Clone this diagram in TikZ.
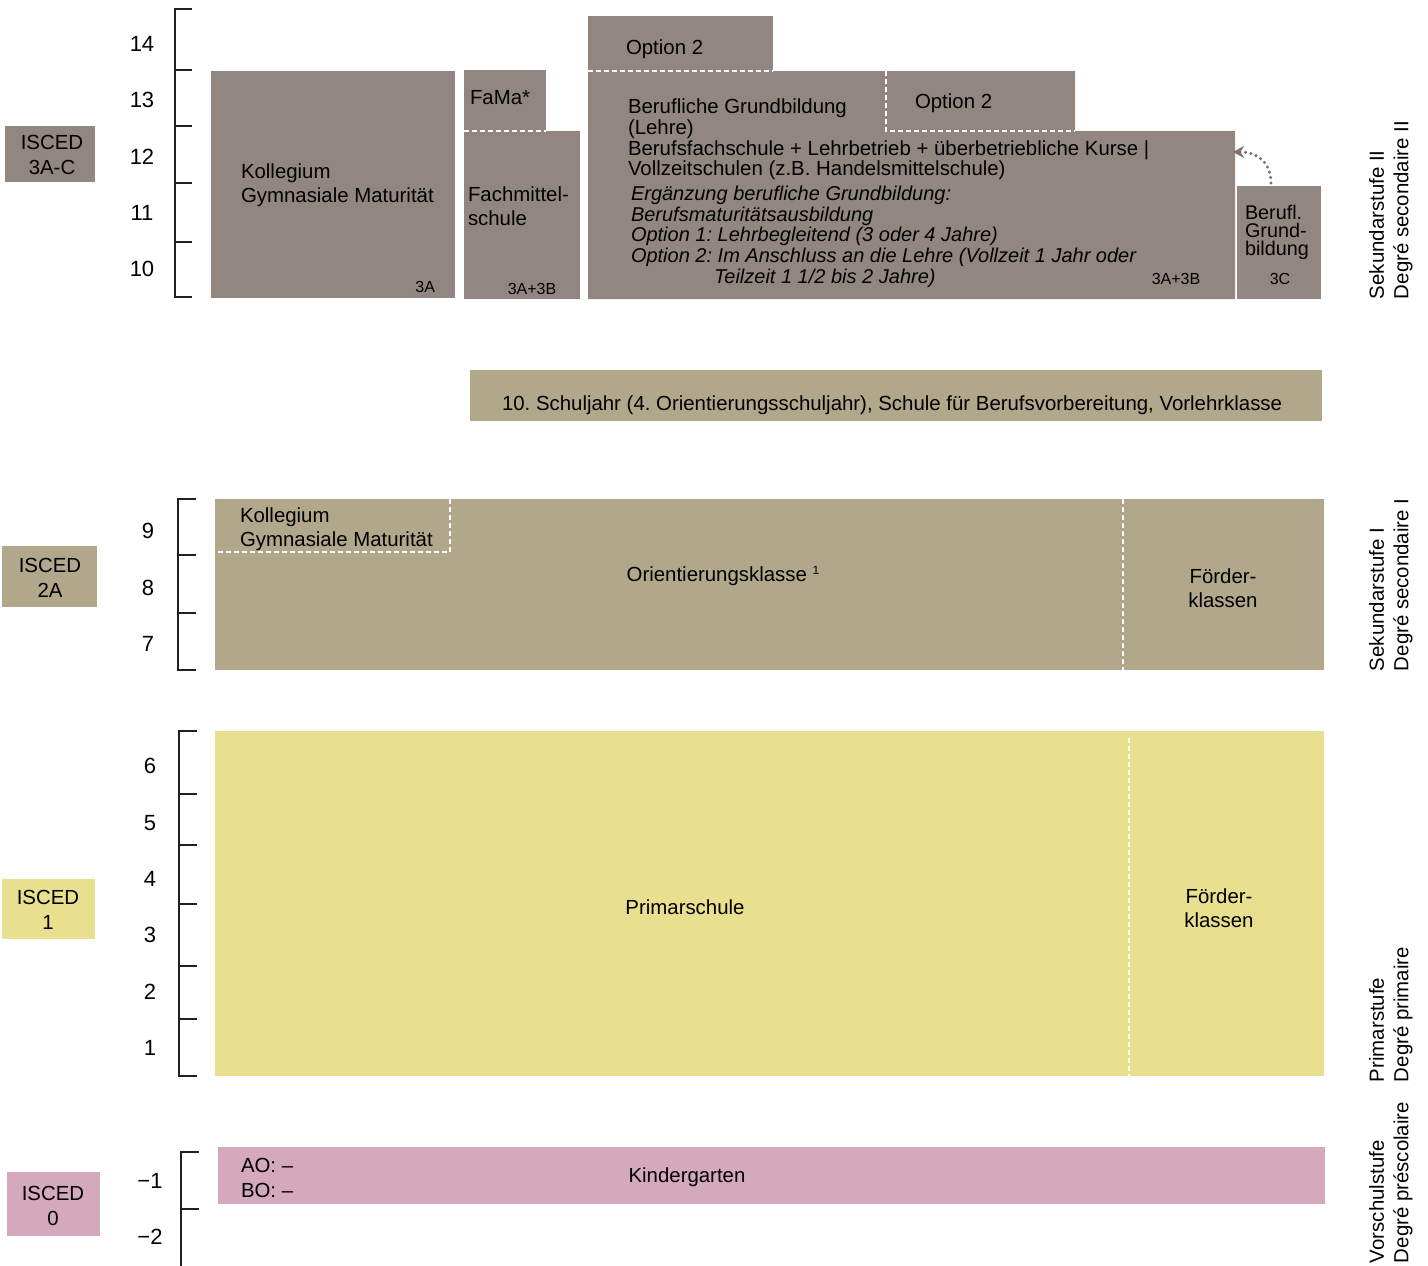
\documentclass[tikz,border=0pt]{standalone}
\usepackage{fontspec}
\setmainfont{Liberation Sans}
\usetikzlibrary{arrows.meta}
\definecolor{grayc}{RGB}{146,135,128}
\definecolor{tanc}{RGB}{177,167,138}
\definecolor{yelc}{RGB}{232,224,142}
\definecolor{pinkc}{RGB}{212,169,188}
\definecolor{inkc}{RGB}{35,31,32}
\definecolor{arrc}{RGB}{125,114,108}
\newcommand\fsn{\fontsize{20.4}{20.7}\selectfont}
\newcommand\fsi{\fontsize{20.0}{20.75}\selectfont\itshape}
\newcommand\fsk{\fontsize{20.4}{24.5}\selectfont}
\newcommand\fsb{\fontsize{19.8}{18}\selectfont}
\newcommand\fsnum{\fontsize{22}{24}\selectfont}
\newcommand\fss{\fontsize{16}{18}\selectfont}
\tikzset{
  blk/.style={anchor=north west, inner sep=0, outer sep=0, draw=none},
  txt/.style={inner sep=0, outer sep=0, text=black, font=\fsn, yshift=-2pt},
  txtk/.style={inner sep=0, outer sep=0, text=black, font=\fsk, yshift=-2pt},
  small/.style={inner sep=0, outer sep=0, text=black, font=\fss},
  num/.style={inner sep=0, outer sep=0, text=black, font=\fsnum},
  isced/.style={inner sep=0, outer sep=0, anchor=north west, align=center, font=\fsk},
  wdash/.style={draw=white, line width=1.6pt, dash pattern=on 5pt off 3pt},
  brk/.style={draw=inkc, line width=2pt},
  lvl/.style={inner sep=0, outer sep=0, rotate=90, anchor=north west, align=left, font=\fsk},
}
\begin{document}
\frenchspacing
\begin{tikzpicture}[x=1pt,y=-1pt]
\useasboundingbox (0,0) rectangle (1428,1266);

% ---------------- upper secondary ----------------
\node[isced, fill=grayc, minimum width=90, minimum height=56] (i3) at (5,126) {};
\node[txtk, align=center] (i3t) at (52,153) {ISCED\\3A-C};

\draw[brk] (192,9) -- (175,9) -- (175,297) -- (192,297);
\foreach \y in {70,126,183,242} \draw[brk] (175,\y) -- (192,\y);
\node[num] (n14) at (142,44) {14};
\node[num] (n13) at (142,100) {13};
\node[num] (n12) at (142,157) {12};
\node[num] (n11) at (142,213) {11};
\node[num] (n10) at (142,269) {10};

\node[blk, fill=grayc, minimum width=244, minimum height=227] (kol) at (211,71) {};
\node[txtk, align=left, anchor=west] (kolt) at (241,183) {Kollegium\\Gymnasiale Maturität};
\node[small, anchor=east] (kol3a) at (435,287) {3A};

\node[blk, fill=grayc, minimum width=82, minimum height=61] (fama) at (464,70) {};
\node[blk, fill=grayc, minimum width=116, minimum height=168] (fms) at (464,131) {};
\draw[wdash] (fama.south west) -- (fama.south east);
\node[txt, anchor=west] (famat) at (470,96) {FaMa*};
\node[txtk, align=left, anchor=west] (fmst) at (468,204) {Fachmittel-\\schule};
\node[small] (fms3) at (532,289) {3A+3B};

\node[blk, fill=grayc, minimum width=185, minimum height=56] (opt2a) at (588,16) {};
\node[txt, anchor=west] (opt2at) at (626,47) {Option 2};
\fill[grayc] (588,71) -- (1075,71) -- (1075,131) -- (1235,131) -- (1235,299) -- (588,299) -- cycle;
\coordinate (bgnw) at (588,71);
\draw[wdash] (588,71) -- (773,71);
\draw[wdash] (886,71) -- (886,131) -- (1075,131);
\node[txt, anchor=west] (opt2bt) at (915,101) {Option 2};
\node[txt, align=left, anchor=north west] (bgt) at (628,97) {Berufliche Grundbildung\\(Lehre)\\Berufsfachschule + Lehrbetrieb + überbetriebliche Kurse |\\Vollzeitschulen (z.B. Handelsmittelschule)};
\node[txt, align=left, anchor=north west, font=\fsi] (bmt) at (631,184) {Ergänzung berufliche Grundbildung:\\Berufsmaturitätsausbildung\\Option 1: Lehrbegleitend (3 oder 4 Jahre)\\Option 2: Im Anschluss an die Lehre (Vollzeit 1 Jahr oder\\\hspace*{83pt}Teilzeit 1 1/2 bis 2 Jahre)};
\node[small] (bg3) at (1176,279) {3A+3B};

\node[blk, fill=grayc, minimum width=84, minimum height=113] (bfl) at (1237,186) {};
\node[txt, align=left, anchor=north west, font=\fsb] (bflt) at (1245,203) {Berufl.\\Grund-\\bildung};
\node[small] (bfl3) at (1280,279) {3C};
\coordinate (tip) at (1233,152);
\draw[arrc, line width=3.4pt, line cap=round, dash pattern=on 0pt off 5.5pt, -{Stealth[length=11pt,width=12pt,line cap=butt]}] (1271,183) .. controls (1271,163) and (1258,152) .. (tip);

\node[lvl] (l3) at (1369,299) {Sekundarstufe II\\Degré secondaire II};

% ---------------- 10th year ----------------
\node[blk, fill=tanc, minimum width=852, minimum height=51] (ten) at (470,370) {};
\node[txt, anchor=west] (tent) at (502,403) {10. Schuljahr (4. Orientierungsschuljahr), Schule für Berufsvorbereitung, Vorlehrklasse};

% ---------------- lower secondary ----------------
\node[isced, fill=tanc, minimum width=95, minimum height=61] (i2) at (2,546) {};
\node[txtk, align=center] (i2t) at (50,576) {ISCED\\2A};
\draw[brk] (196,499) -- (178,499) -- (178,670) -- (196,670);
\foreach \y in {555,613} \draw[brk] (178,\y) -- (196,\y);
\node[num] (n9) at (148,531) {9};
\node[num] (n8) at (148,588) {8};
\node[num] (n7) at (148,644) {7};

\node[blk, fill=tanc, minimum width=1109, minimum height=171] (sek) at (215,499) {};
\draw[wdash] (450,499) -- (450,552) -- (215,552);
\draw[wdash] (1123,499) -- (1123,670);
\node[txtk, align=left, anchor=west] (sekk) at (240,527) {Kollegium\\Gymnasiale Maturität};
\node[txt] (ori) at (723,574) {Orientierungsklasse \raisebox{7pt}{\fontsize{12}{12}\selectfont 1}};
\node[txtk, align=center] (sekf) at (1223,586) {Förder-\\klassen};
\node[lvl] (l2) at (1369,671) {Sekundarstufe I\\Degré secondaire I};

% ---------------- primary ----------------
\node[isced, fill=yelc, minimum width=93, minimum height=60] (i1) at (2,879) {};
\node[txtk, align=center] (i1t) at (48,908) {ISCED\\1};
\draw[brk] (197,731) -- (179,731) -- (179,1076) -- (197,1076);
\foreach \y in {794,845,904,966,1019} \draw[brk] (179,\y) -- (197,\y);
\node[num] (n6) at (150,766) {6};
\node[num] (n5) at (150,823) {5};
\node[num] (n4) at (150,879) {4};
\node[num] (n3) at (150,935) {3};
\node[num] (n2) at (150,992) {2};
\node[num] (n1) at (150,1048) {1};

\node[blk, fill=yelc, minimum width=1109, minimum height=345] (prim) at (215,731) {};
\draw[wdash] (1129,738) -- (1129,1076);
\node[txt] (primt) at (685,905) {Primarschule};
\node[txtk, align=center] (primf) at (1219,906) {Förder-\\klassen};
\node[lvl] (l1) at (1369,1082) {Primarstufe\\Degré primaire};

% ---------------- pre-school ----------------
\node[isced, fill=pinkc, minimum width=93, minimum height=64] (i0) at (7,1172) {};
\node[txtk, align=center] (i0t) at (53,1204) {ISCED\\0};
\draw[brk] (199,1152) -- (181,1152) -- (181,1266);
\draw[brk] (181,1209) -- (199,1209);
\node[num] (nm1) at (150,1181) {\char"2212 1};
\node[num] (nm2) at (150,1237) {\char"2212 2};

\node[blk, fill=pinkc, minimum width=1107, minimum height=57] (kg) at (218,1147) {};
\node[txtk, align=left, anchor=west] (kgao) at (241,1176) {AO: –\\BO: –};
\node[txt] (kgt) at (687,1175) {Kindergarten};
\node[lvl] (l0) at (1369,1263) {Vorschulstufe\\Degré préscolaire};
\end{tikzpicture}
\end{document}
